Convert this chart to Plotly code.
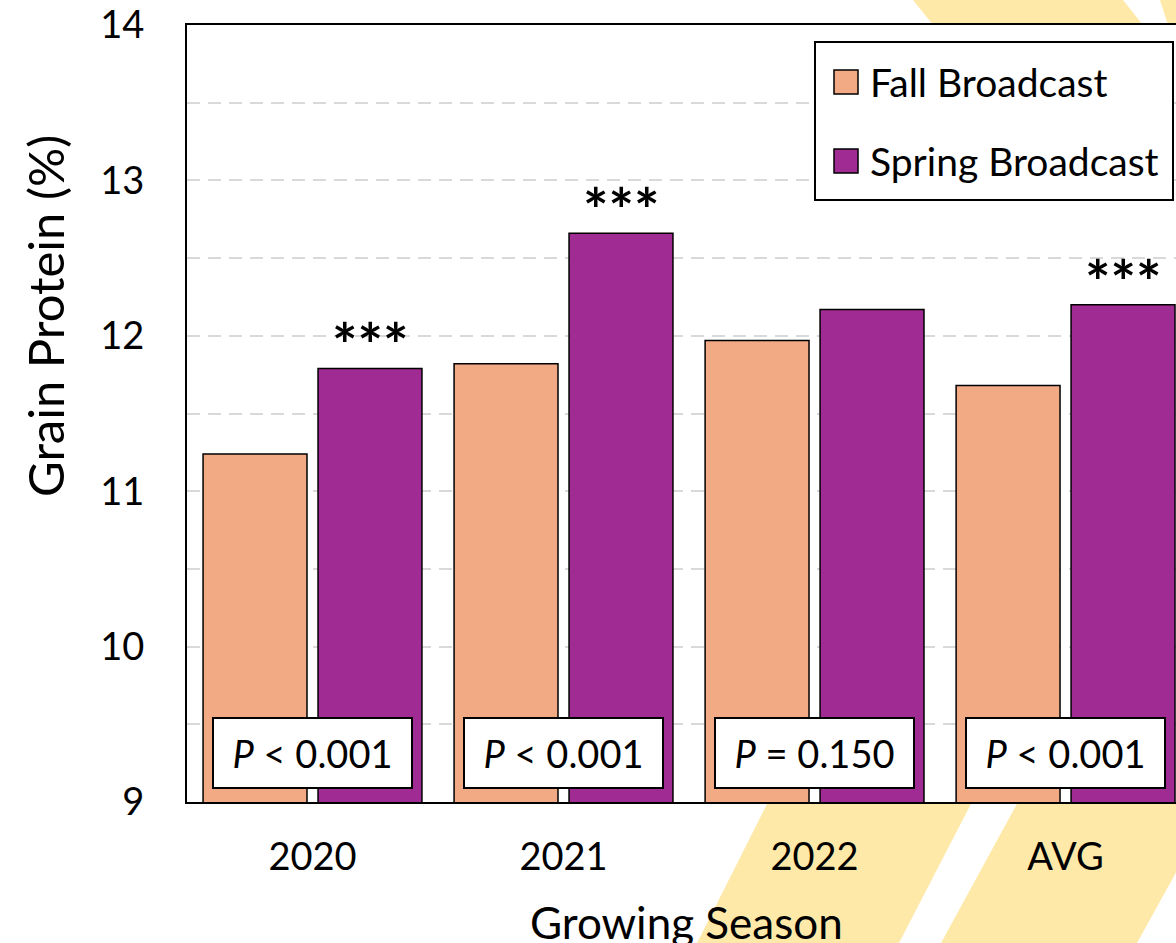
import plotly.graph_objects as go

seasons = ["2020", "2021", "2022", "AVG"]
fall_protein = [11.24, 11.82, 11.97, 11.68]
spring_protein = [11.79, 12.66, 12.17, 12.20]
spring_sig = ["***", "***", "", "***"]
p_labels = ["< 0.001", "< 0.001", "= 0.150", "< 0.001"]

fall_color = "#F2AA84"
spring_color = "#A02B93"
stripe_color = "#FFE9A8"
font_family = "Lato"

# plot area in pixels, used to place the slide decoration and the legend box
L, T, W, H = 187, 25, 989, 777


def px(x):
    return (x - L) / W


def py(y):
    return (T + H - y) / H


def poly(points):
    return "M " + " L ".join(f"{px(x):.4f},{py(y):.4f}" for x, y in points) + " Z"


fig = go.Figure()
fig.add_trace(go.Bar(x=seasons, y=fall_protein, name="Fall Broadcast",
                     marker=dict(color=fall_color, line=dict(color="black", width=1.5))))
fig.add_trace(go.Bar(x=seasons, y=spring_protein, name="Spring Broadcast",
                     marker=dict(color=spring_color, line=dict(color="black", width=1.5))))

shapes = []
# yellow slide stripes peeking out round the chart
for pts in [
    [(913, 0), (1123, 0), (1143, 25), (933, 25)],
    [(1160, 0), (1200, 0), (1200, 25), (1168, 25)],
    [(768, 802), (972, 802), (899, 943), (697, 943)],
    [(1018, 802), (1215, 802), (1137, 943), (941, 943)],
]:
    shapes.append(dict(type="path", xref="paper", yref="paper", path=poly(pts),
                       fillcolor=stripe_color, line=dict(width=0), layer="below"))

# legend drawn by hand so the swatches can be large
shapes.append(dict(type="rect", xref="paper", yref="paper", x0=px(815), x1=px(1173),
                   y0=py(200), y1=py(42), fillcolor="white",
                   line=dict(color="black", width=2), layer="above"))
for y0, col in [(70, fall_color), (149, spring_color)]:
    shapes.append(dict(type="rect", xref="paper", yref="paper", x0=px(834), x1=px(858),
                       y0=py(y0 + 24), y1=py(y0), fillcolor=col,
                       line=dict(color="black", width=1.5), layer="above"))

annotations = []
for name, yc in [("Fall Broadcast", 82), ("Spring Broadcast", 161)]:
    annotations.append(dict(text=name, xref="paper", yref="paper", x=px(868), y=py(yc),
                            xanchor="left", yanchor="middle", showarrow=False,
                            font=dict(size=39, color="black", family=font_family)))

for i, lab in enumerate(p_labels):
    annotations.append(dict(text=f"<i>P</i> {lab}", x=i, y=py(753), yref="paper",
                            xanchor="center", yanchor="middle", showarrow=False,
                            width=197, height=68, borderpad=0, borderwidth=2,
                            bordercolor="black", bgcolor="white",
                            font=dict(size=38, color="black", family=font_family)))

for i, (v, sig) in enumerate(zip(spring_protein, spring_sig)):
    if sig:
        annotations.append(dict(text=f"<b>{sig}</b>", x=i, y=v, xshift=57.5, yshift=-14,
                                xanchor="center", yanchor="bottom", showarrow=False,
                                font=dict(size=60, color="black", family=font_family)))

annotations.append(dict(text="Grain Protein (%)", xref="paper", yref="paper",
                        x=px(45), y=py(316), textangle=-90, xanchor="center",
                        yanchor="middle", showarrow=False,
                        font=dict(size=49, color="black", family=font_family)))
annotations.append(dict(text="Growing Season", xref="paper", yref="paper",
                        x=px(686), y=py(922), xanchor="center", yanchor="middle",
                        showarrow=False,
                        font=dict(size=44, color="black", family=font_family)))

grid = dict(gridcolor="#D9D9D9", gridwidth=1.5, griddash="13px,8px")

fig.update_layout(
    width=1176, height=943,
    margin=dict(l=L, r=0, t=T, b=943 - T - H),
    paper_bgcolor="white", plot_bgcolor="white",
    barmode="group", bargap=0.084, bargroupgap=0.096,
    showlegend=False,
    font=dict(family=font_family, color="black", size=38),
    shapes=shapes, annotations=annotations,
    xaxis=dict(type="category", range=[-0.5, 3.44], showline=True, linecolor="black",
               linewidth=2, mirror=True, ticks="", showgrid=False, ticklabelstandoff=20,
               tickfont=dict(size=38, family=font_family, color="black")),
    yaxis=dict(range=[9, 14], dtick=1, tick0=9, showline=True, linecolor="black",
               linewidth=2, mirror=False, ticks="", showgrid=True, zeroline=False,
               ticklabelstandoff=33,
               minor=dict(dtick=0.5, tick0=9, showgrid=True, **grid),
               tickfont=dict(size=38, family=font_family, color="black"), **grid),
)

fig.write_html("out.html", config={"displayModeBar": False},
               post_script="document.body.style.margin = '0';")
